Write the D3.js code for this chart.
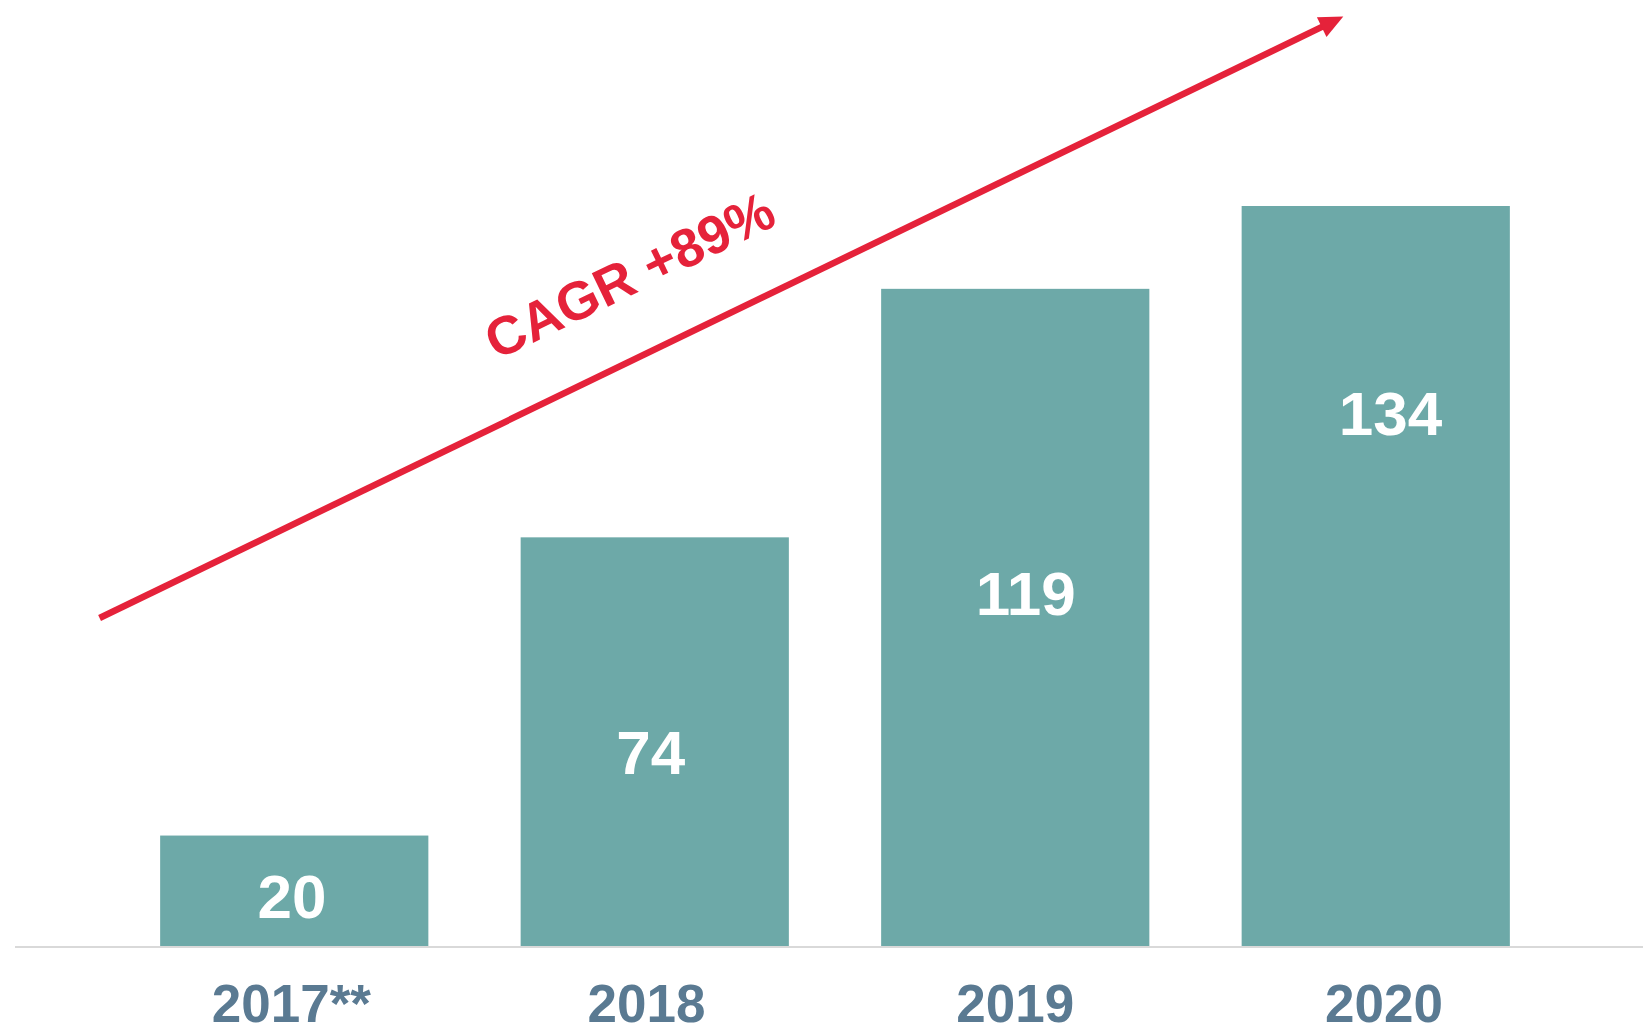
<!DOCTYPE html>
<html>
<head>
<meta charset="utf-8">
<script src="https://cdn.jsdelivr.net/npm/d3@7"></script>
<style>
  html, body { margin: 0; padding: 0; background: #ffffff; }
  svg { display: block; }
  text { font-family: "Liberation Sans", Arial, sans-serif; font-weight: bold; }
</style>
</head>
<body>
<svg id="chart" width="1643" height="1026"></svg>
<script>
// ---- data ----
const categories = ["2017**", "2018", "2019", "2020"];
const values = [20, 74, 119, 134];
const valueLabels = ["20", "74", "119", "134"];
// where each value label sits inside its bar, in data units
const labelAt = [9, 35, 63.8, 96.4];
// horizontal nudge of labels, in fractions of a category step
const labelShift = [-0.006, -0.011, 0.029, 0.041];
const tickShift = [-0.008, -0.023, 0, 0.023];
const cagrText = "CAGR +89%";
// annotation arrow in data space: [category index position, value]
const arrowFrom = [-0.54, 59.4];
const arrowTo = [2.91, 168.3];
const cagrAt = [0.93, 121.5];

// ---- layout ----
const W = 1643, H = 1026;
const baseY = 946;
const svg = d3.select("#chart");

const x = d3.scaleBand()
  .domain(categories)
  .range([114, 1556])
  .paddingInner(0.256)
  .paddingOuter(0.128);

const y = d3.scaleLinear()
  .domain([0, 134])
  .range([baseY, 206]);

const xi = d3.scaleLinear()
  .domain([0, categories.length - 1])
  .range([x(categories[0]) + x.bandwidth() / 2, x(categories[categories.length - 1]) + x.bandwidth() / 2]);

// bars
svg.append("g").selectAll("rect")
  .data(values)
  .join("rect")
  .attr("x", (d, i) => x(categories[i]))
  .attr("y", d => y(d))
  .attr("width", x.bandwidth())
  .attr("height", d => baseY - y(d))
  .attr("fill", "#6da9a8");

// baseline
svg.append("line")
  .attr("x1", 15).attr("x2", W)
  .attr("y1", baseY + 1).attr("y2", baseY + 1)
  .attr("stroke", "#d9d9d9").attr("stroke-width", 2);

// value labels
svg.append("g").selectAll("text")
  .data(valueLabels)
  .join("text")
  .attr("x", (d, i) => xi(i + labelShift[i]))
  .attr("y", (d, i) => y(labelAt[i]))
  .attr("text-anchor", "middle")
  .attr("dominant-baseline", "central")
  .attr("font-size", 62)
  .attr("fill", "#ffffff")
  .text(d => d);

// category axis
const axis = d3.axisBottom(x).tickSize(0).tickPadding(0);
const gAxis = svg.append("g")
  .attr("transform", `translate(0, ${baseY})`)
  .call(axis);
gAxis.select(".domain").remove();
gAxis.selectAll("text")
  .attr("y", 76)
  .attr("dy", 0)
  .attr("x", (d, i) => tickShift[i] * x.step())
  .attr("font-size", 53)
  .attr("font-family", "'Liberation Sans', Arial, sans-serif")
  .attr("font-weight", "bold")
  .attr("fill", "#5a7a92");

// arrow
const red = "#e5223a";
const x1 = xi(arrowFrom[0]), y1 = y(arrowFrom[1]);
const x2 = xi(arrowTo[0]), y2 = y(arrowTo[1]);
const ang = Math.atan2(y2 - y1, x2 - x1);
const headLen = 24, headHalf = 11;
const bx = x2 - headLen * Math.cos(ang), by = y2 - headLen * Math.sin(ang);
svg.append("line")
  .attr("x1", x1).attr("y1", y1)
  .attr("x2", bx + 2 * Math.cos(ang)).attr("y2", by + 2 * Math.sin(ang))
  .attr("stroke", red).attr("stroke-width", 6.5);
const nx = -Math.sin(ang), ny = Math.cos(ang);
svg.append("path")
  .attr("d", `M${x2},${y2} L${bx + nx * headHalf},${by + ny * headHalf} L${bx - nx * headHalf},${by - ny * headHalf} Z`)
  .attr("fill", red);

// CAGR text
const deg = ang * 180 / Math.PI;
svg.append("text")
  .attr("transform", `translate(${xi(cagrAt[0])}, ${y(cagrAt[1])}) rotate(${deg})`)
  .attr("text-anchor", "middle")
  .attr("dominant-baseline", "central")
  .attr("font-size", 54)
  .attr("fill", red)
  .text(cagrText);
</script>
</body>
</html>
